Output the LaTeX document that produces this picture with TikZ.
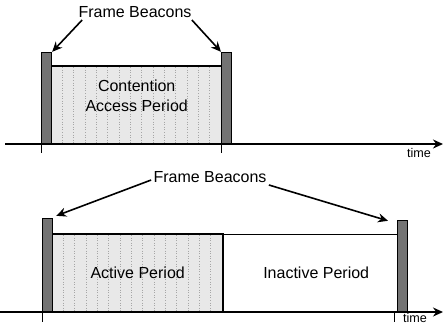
\documentclass[tikz,border=0pt]{standalone}
\usepackage{fontspec}
\setmainfont{Liberation Sans}
\usetikzlibrary{arrows.meta,positioning}

\begin{document}
\begin{tikzpicture}[
    x=0.5pt, y=-0.5pt,
    >={Stealth[length=5pt,width=4.5pt]},
    font=\fontsize{8}{9.6}\selectfont,
    beacon/.style={
		rectangle,
		draw=black,
		fill=black!55,
		line width=0.6pt,
		minimum width=5pt,
		inner sep=0pt,
		anchor=south west
	},
    period/.style={
		rectangle,
		draw=black,
		line width=0.7pt,
		minimum width=85pt,
		minimum height=38.5pt,
		inner sep=0pt,
		anchor=south west,
		align=center
	},
    slot/.style={
		gray!70,
		densely dotted,
		line width=0.3pt
	},
    axis/.style={
		->,
		line width=1pt
	},
    pointer/.style={
		->,
		line width=0.8pt
	},
    tick/.style={
		line width=0.4pt
	},
	label/.style={
		inner sep=1pt
	},
	small/.style={
		inner sep=0pt,
		font=\fontsize{6.3}{7}\selectfont
	}
  ]
  \useasboundingbox (0,0) rectangle (443,323);

  % upper frame: beacon interval with contention access period
  \node [period, fill=gray!18] (cap) at (51,144) {};
  \foreach \k in {1,...,14}
    \draw [slot] ({51+\k*170/15},67) -- ({51+\k*170/15},144);
  \draw [line width=0.7pt] (cap.south west) rectangle (cap.north east);
  \node [align=center] (captxt) at ([yshift=4.5pt]cap.center) {Contention\\Access Period};
  \node [beacon, minimum height=45.5pt] (bcn1) at (41,144) {};
  \node [beacon, minimum height=45.5pt] (bcn2) at (221,144) {};

  \coordinate (ax1s) at (5,144);
  \coordinate (ax1e) at (443,144);
  \draw [axis] (ax1s) -- (ax1e);
  \draw [tick] (bcn1.south west) -- ++(0,9);
  \draw [tick] (bcn2.south west) -- ++(0,9);
  \node [small] (time1) at (419,153) {time};

  \node [label] (fb1) at (135,12) {Frame Beacons};
  \draw [pointer] ([xshift=3pt]fb1.south west) -- (bcn1.north east);
  \draw [pointer] ([xshift=-1pt]fb1.south east) -- (bcn2.north west);

  % lower frame: active and inactive period
  \node [period, fill=gray!18] (act) at (52,312) {};
  \foreach \k in {1,...,14}
    \draw [slot] ({52+\k*170/15},235) -- ({52+\k*170/15},312);
  \draw [line width=0.7pt] (act.south west) rectangle (act.north east);
  \node (acttxt) at (act.center) {Active Period};
  \node [period, minimum width=87.5pt] (inact) at (222,312) {};
  \node (inacttxt) at ([xshift=3pt]inact.center) {Inactive Period};
  \node [beacon, minimum height=46.5pt] (bcn3) at (42,312) {};
  \node [beacon, minimum height=45.5pt] (bcn4) at (397,312) {};

  \coordinate (ax2s) at (0,312);
  \coordinate (ax2e) at (443,312);
  \draw [axis] (ax2s) -- (ax2e);
  \draw [tick] (bcn3.south west) -- ++(0,10);
  \draw [tick] ([xshift=-1.5pt]bcn4.south west) -- ++(0,10);
  \node [small] (time2) at (415,318) {time};

  \node [label] (fb2) at (210,177) {Frame Beacons};
  \draw [pointer] ([yshift=-1.5pt]fb2.west) -- ([shift={(3,-2)}]bcn3.north east);
  \draw [pointer] (fb2.south east) -- ([shift={(-9,1)}]bcn4.north west);
\end{tikzpicture}
\end{document}
